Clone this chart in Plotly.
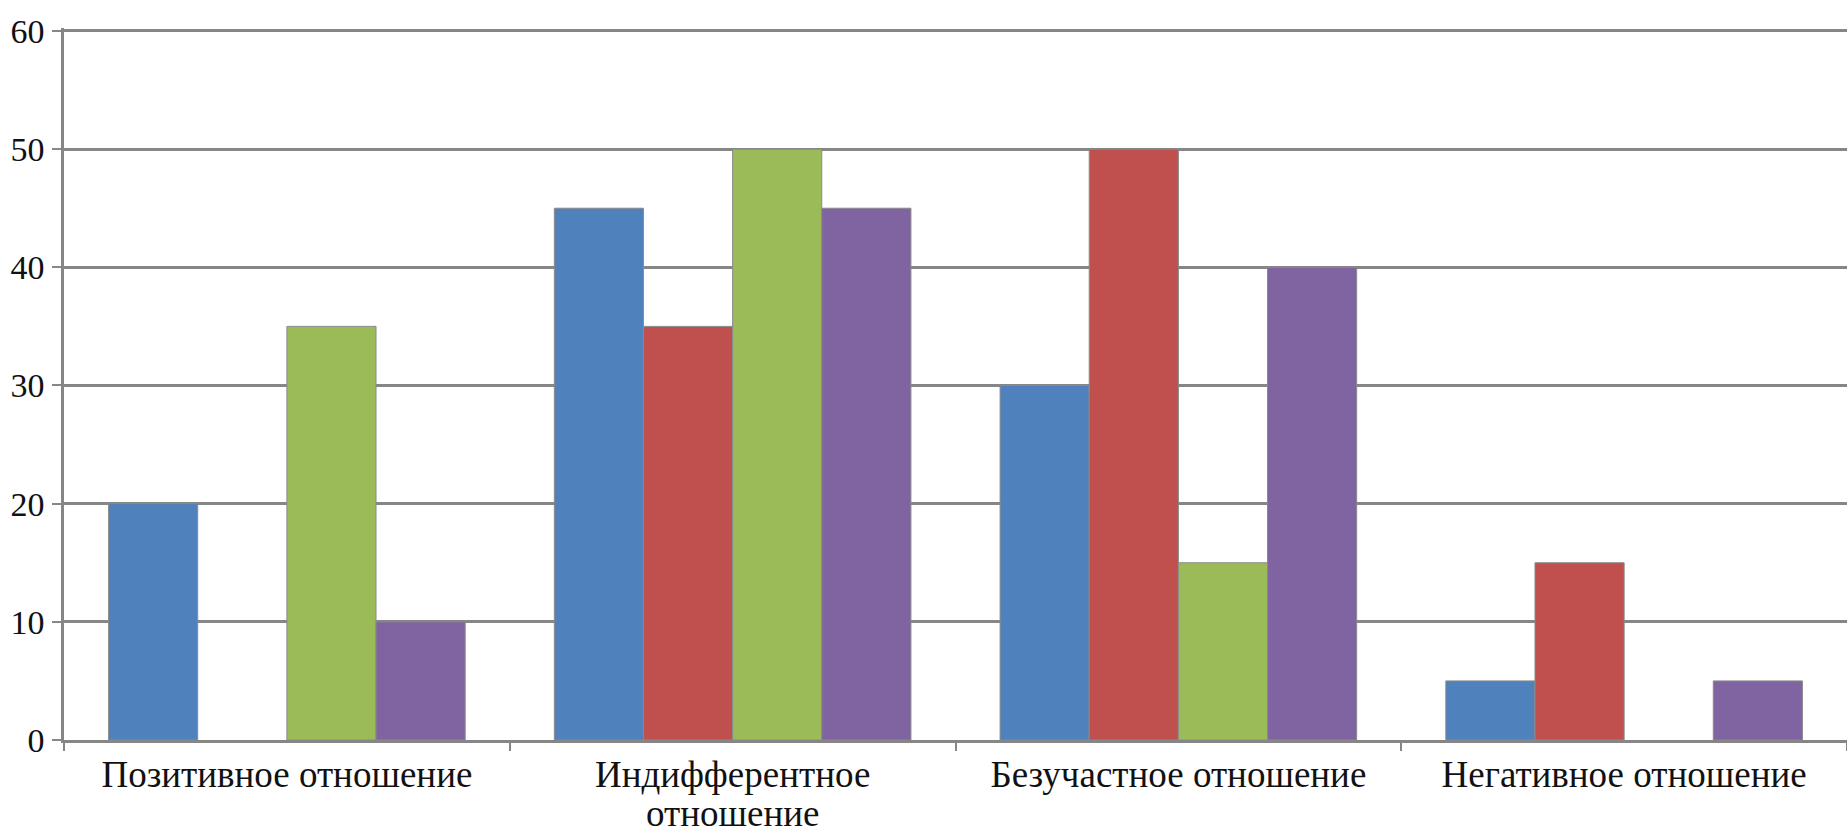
import plotly.graph_objects as go

categories = ["Позитивное отношение", "Индифферентное отношение", "Безучастное отношение", "Негативное отношение"]
tick_first_lines = ["Позитивное отношение", "Индифферентное", "Безучастное отношение", "Негативное отношение"]
wrapped_second_line = "отношение"
series_names = ["Ряд 1", "Ряд 2", "Ряд 3", "Ряд 4"]
series_1 = [20, 45, 30, 5]
series_2 = [None, 35, 50, 15]
series_3 = [35, 50, 15, None]
series_4 = [10, 45, 40, 5]
colors = ["#4F81BD", "#C0504D", "#9BBB59", "#8064A2"]
y_ticks = [0, 10, 20, 30, 40, 50, 60]

FONT = "Liberation Serif"

fig = go.Figure()
for name, vals, col in zip(series_names, [series_1, series_2, series_3, series_4], colors):
    fig.add_trace(go.Bar(
        x=categories, y=vals, name=name,
        marker=dict(color=col, line=dict(color="#8a8a8a", width=1)),
    ))

fig.add_annotation(
    x=categories[1], y=0, xref="x", yref="y",
    text=wrapped_second_line, showarrow=False,
    yanchor="middle", yshift=-73,
    font=dict(size=37, family=FONT, color="#111111"),
)

fig.update_layout(
    width=1847, height=833,
    barmode="group", bargap=0.2, bargroupgap=0,
    showlegend=False,
    plot_bgcolor="white", paper_bgcolor="white",
    margin=dict(l=64, r=0, t=28, b=93),
    font=dict(family=FONT, color="#111111"),
)
fig.update_xaxes(
    automargin=False,
    tickvals=categories, ticktext=tick_first_lines,
    showgrid=False, showline=True, linecolor="#868686", linewidth=2.5,
    ticks="outside", tickson="boundaries", ticklen=8, tickcolor="#868686", tickwidth=2,
    tickfont=dict(size=37, family=FONT, color="#111111"),
)
fig.update_yaxes(
    automargin=False,
    range=[0, 60.25], tickvals=y_ticks,
    showgrid=True, gridcolor="#868686", gridwidth=2.5,
    showline=True, linecolor="#868686", linewidth=2.5,
    ticks="outside", ticklen=9, tickcolor="#868686", tickwidth=2,
    ticklabelstandoff=1,
    tickfont=dict(size=34, family=FONT, color="#111111"),
    zeroline=False,
)
fig.write_html(
    "out.html",
    config={"displayModeBar": False},
    post_script="document.body.style.margin='0';document.documentElement.style.overflow='hidden';document.body.style.overflow='hidden';",
)
